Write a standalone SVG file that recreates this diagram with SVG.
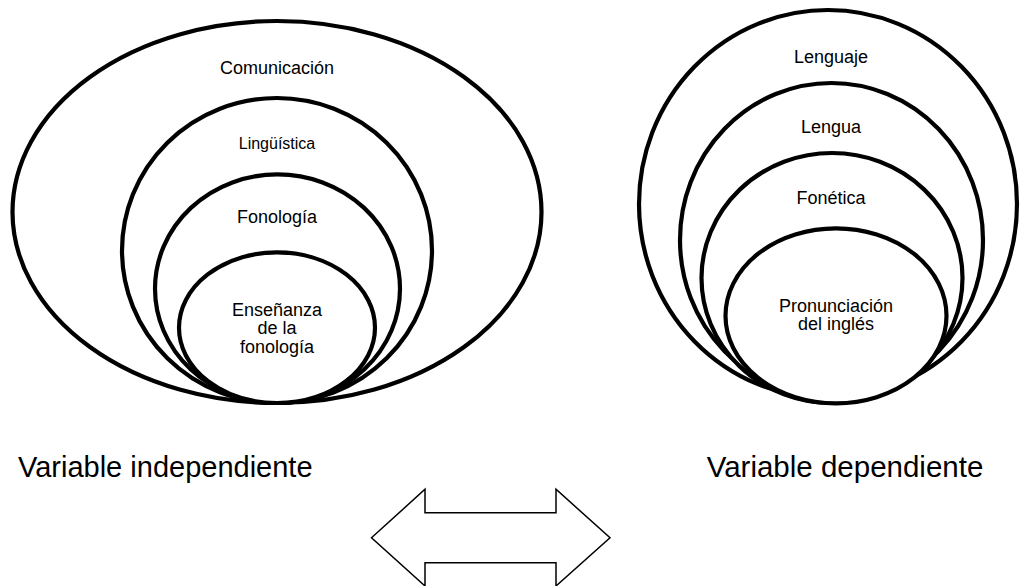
<svg xmlns="http://www.w3.org/2000/svg" width="1021" height="586" viewBox="0 0 1021 586">
<style>
.c{fill:#fff;stroke:#000;stroke-width:4.2}
.t{font-family:"Liberation Sans",Arial,sans-serif;font-size:18px;fill:#000;text-anchor:middle}
.b{font-family:"Liberation Sans",Arial,sans-serif;font-size:29px;fill:#000}
</style>
<rect width="1021" height="586" fill="#fff"/>
<g id="comunicacion"><ellipse class="c" cx="277" cy="212" rx="264.5" ry="191"/><text class="t" x="277" y="74">Comunicación</text></g>
<g id="linguistica"><ellipse class="c" cx="277" cy="250.5" rx="155" ry="152.5"/><text class="t" x="277" y="149" style="font-size:16px">Lingüística</text></g>
<g id="fonologia"><ellipse class="c" cx="277.5" cy="288.7" rx="122.5" ry="114.3"/><text class="t" x="277" y="223">Fonología</text></g>
<g id="ensenanza"><ellipse class="c" cx="277" cy="327.7" rx="98" ry="75.3"/><text class="t" x="277" y="316">Enseñanza<tspan x="277" y="334.3">de la</tspan><tspan x="277" y="352.7">fonología</tspan></text></g>
<g id="lenguaje"><ellipse class="c" cx="828" cy="204" rx="189" ry="194"/><text class="t" x="831" y="63">Lenguaje</text></g>
<g id="lengua"><ellipse class="c" cx="831.5" cy="240" rx="151.5" ry="157"/><text class="t" x="831" y="133">Lengua</text></g>
<g id="fonetica"><ellipse class="c" cx="832" cy="278" rx="130.5" ry="125"/><text class="t" x="831" y="204">Fonética</text></g>
<g id="pronunciacion"><ellipse class="c" cx="836" cy="315.8" rx="110.5" ry="87.5"/><text class="t" x="836" y="311.5">Pronunciación<tspan x="836" y="330">del inglés</tspan></text></g>
<g id="label-independiente"><text class="b" x="18" y="477">Variable independiente</text></g>
<g id="label-dependiente"><text class="b" x="845" y="477" text-anchor="middle" style="font-size:29.5px">Variable dependiente</text></g>
<g id="connectors"><path d="M371.5,537.7 L425,489.3 L425,512.7 L556,512.7 L556,489.3 L610,537.7 L556,586 L556,562.7 L425,562.7 L425,586 Z" fill="#fff" stroke="#000" stroke-width="1.5" stroke-linejoin="miter"/></g>
</svg>
